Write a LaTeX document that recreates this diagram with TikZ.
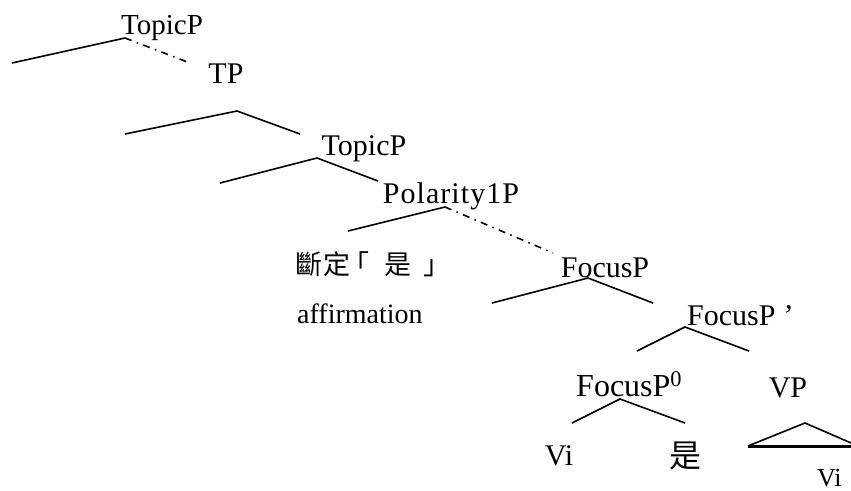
\documentclass[tikz,border=0pt]{standalone}
\usepackage{fontspec}
\setmainfont{Liberation Serif}
\newfontfamily\cjk[Kerning=Off,RawFeature=+palt]{Noto Sans CJK TC}
% set one glyph centred at a given offset from the start of the line
\newcommand\glyphat[2]{\rlap{\hspace{#1}\makebox[0pt]{#2}}}
\begin{document}
\begin{tikzpicture}[x=1pt,y=-1pt,
  lbl/.style={inner sep=0pt,anchor=base,font=\fontsize{30}{33}\selectfont},
  lblcjk/.style={inner sep=0pt,anchor=center,font=\cjk\fontsize{27}{30}\selectfont},
  branch/.style={line width=1.6pt},
  movepath/.style={line width=1.6pt,dash pattern=on 7pt off 5.5pt on 1.5pt off 5.5pt},
  base/.style={line width=3pt}]
\useasboundingbox (0,0) rectangle (851,490);
\clip (0,0) rectangle (851,490);

% labels
\node[lbl,font=\fontsize{29}{32}\selectfont] (topic1) at (162,34) {TopicP};
\node[lbl] (tp) at (226,83) {TP};
\node[lbl] (topic2) at (364,155) {TopicP};
\node[lbl,font=\fontsize{30}{33}\selectfont\addfontfeature{LetterSpace=3.5}] (pol) at (451,203) {Polarity1P};
\node[lblcjk,anchor=base west] (aff) at (297,274)
  {\makebox[138pt][l]{\glyphat{11.5pt}{斷}\glyphat{39.5pt}{定}\glyphat{65.5pt}{「}\glyphat{100.5pt}{是}\glyphat{134pt}{」}}};
\node[lbl,anchor=base west,font=\fontsize{28}{30}\selectfont] (affen) at (297,323) {affirmation};
\node[lbl] (focus) at (605,277) {FocusP};
\node[lbl,anchor=base west] (focusbar) at (687,325) {FocusP\hspace{8pt}’};
\node[lbl,anchor=base west,font=\fontsize{32}{35}\selectfont] (focus0) at (576,396) {FocusP\textsuperscript{0}};
\node[lbl] (vp) at (788,397) {VP};
\node[lbl] (vi1) at (559,465) {Vi};
\node[lblcjk,font=\cjk\fontsize{32}{35}\selectfont] (shi) at (685,456) {是};
\node[lbl,anchor=base west,font=\fontsize{26}{29}\selectfont] (vi2) at (817,486) {Vi};

% branch points and ends
\coordinate (a1) at (125,38);  \coordinate (l1) at (12,63);   \coordinate (d1) at (190,63);
\coordinate (a2) at (237,111); \coordinate (l2) at (125,134); \coordinate (r2) at (300,134);
\coordinate (a3) at (317,158); \coordinate (l3) at (220,183); \coordinate (r3) at (378,181);
\coordinate (a4) at (445,207); \coordinate (l4) at (348,231); \coordinate (d4) at (553,253);
\coordinate (a5) at (588,278); \coordinate (l5) at (492,303); \coordinate (r5) at (653,303);
\coordinate (a6) at (685,327); \coordinate (l6) at (637,351); \coordinate (r6) at (749,351);
\coordinate (a7) at (620,399); \coordinate (l7) at (572,423); \coordinate (r7) at (685,423);
\coordinate (ta) at (805,423);  \coordinate (tl) at (748,446); \coordinate (tr) at (858,446);

% branches
\draw[branch] (l1) -- (a1);
\draw[movepath] (a1) -- (d1);
\draw[branch] (l2) -- (a2) -- (r2);
\draw[branch] (l3) -- (a3) -- (r3);
\draw[branch] (l4) -- (a4);
\draw[movepath] (a4) -- (d4);
\draw[branch] (l5) -- (a5) -- (r5);
\draw[branch] (l6) -- (a6) -- (r6);
\draw[branch] (l7) -- (a7) -- (r7);
\draw[branch] (tl) -- (ta) -- (tr);
\draw[base] (tl) -- (tr);
\end{tikzpicture}
\end{document}
